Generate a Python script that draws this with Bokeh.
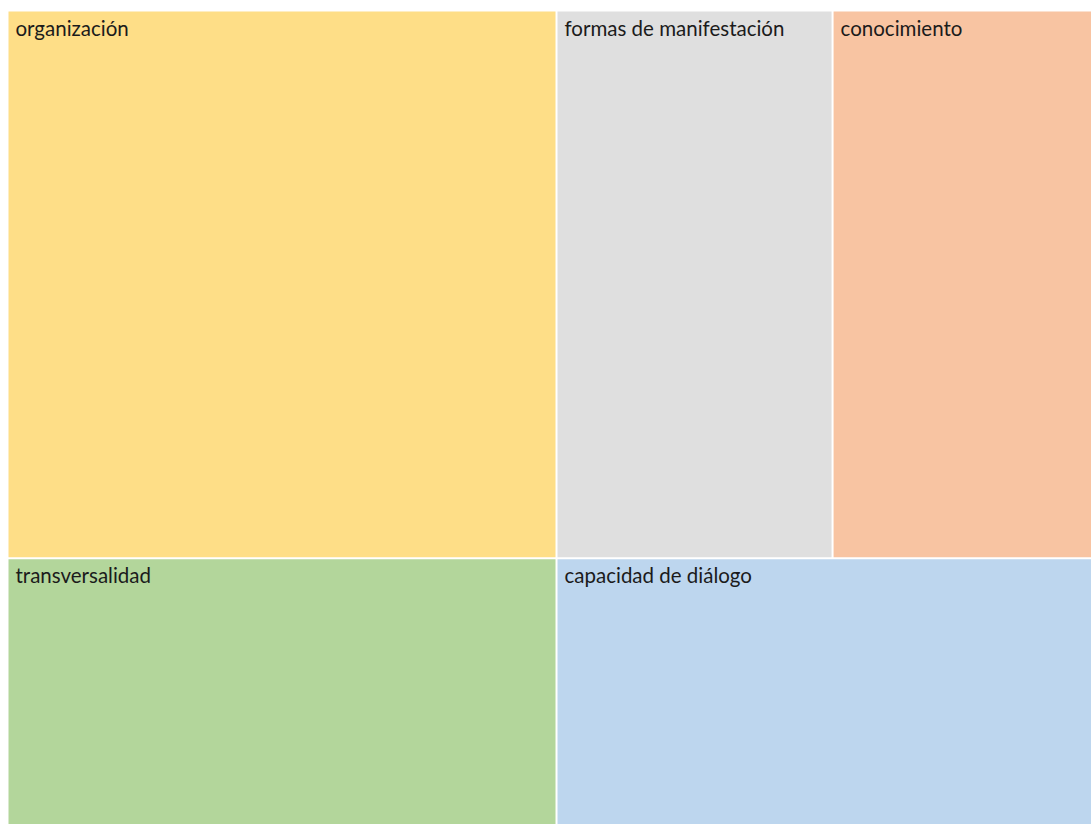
from bokeh.plotting import figure
from bokeh.models import Range1d, ColumnDataSource
from bokeh.core.properties import value
from bokeh.embed import file_html
from bokeh.resources import INLINE

# ---- data ----
labels = ["organización", "transversalidad", "formas de manifestación", "conocimiento", "capacidad de diálogo"]
values = [340, 166, 171, 161, 162]
colors = ["#FEDE87", "#B3D69B", "#DFDFDF", "#F8C4A2", "#BDD6EE"]

W, H = 1091, 824
LEFT, TOP = 8, 11
PAD = 2
PHI = (1 + 5 ** 0.5) / 2


def squarify(vals, x0, y0, x1, y1, ratio=PHI):
    """d3-style squarified treemap tiling."""
    rects = [None] * len(vals)
    n = len(vals)
    total = float(sum(vals))
    i0 = i1 = 0
    while i0 < n:
        dx, dy = x1 - x0, y1 - y0
        s = vals[i1]; i1 += 1
        mn = mx = s
        alpha = max(dy / dx, dx / dy) / (total * ratio)
        beta = s * s * alpha
        min_ratio = max(mx / beta, beta / mn)
        while i1 < n:
            v = vals[i1]
            s2 = s + v
            mn2, mx2 = min(mn, v), max(mx, v)
            beta = s2 * s2 * alpha
            new_ratio = max(mx2 / beta, beta / mn2)
            if new_ratio > min_ratio:
                break
            s, mn, mx, min_ratio = s2, mn2, mx2, new_ratio
            i1 += 1
        idx = list(range(i0, i1))
        if dx < dy:  # dice: row across the top
            yb = y0 + dy * s / total
            cx = x0
            for k in idx:
                w = dx * vals[k] / s
                rects[k] = (cx, y0, cx + w, yb)
                cx += w
            y0 = yb
        else:  # slice: column on the left
            xb = x0 + dx * s / total
            cy = y0
            for k in idx:
                h = dy * vals[k] / s
                rects[k] = (x0, cy, xb, cy + h)
                cy += h
            x0 = xb
        total -= s
        i0 = i1
    return rects


p_half = PAD / 2
cells = squarify(values, LEFT - p_half, TOP - p_half, W + p_half, H + p_half)
left = [c[0] + p_half for c in cells]
top = [c[1] + p_half for c in cells]
right = [c[2] - p_half for c in cells]
bottom = [c[3] - p_half for c in cells]

src = ColumnDataSource(dict(left=left, right=right, top=top, bottom=bottom,
                            color=colors, label=labels,
                            tx=[l + 7 for l in left], ty=[t + 16 for t in top]))

p = figure(width=W, height=H, x_range=Range1d(0, W), y_range=Range1d(H, 0),
           toolbar_location=None, output_backend="svg", min_border=0)
p.axis.visible = False
p.grid.visible = False
p.outline_line_color = None
p.background_fill_color = "white"
p.border_fill_color = "white"

p.quad(left="left", right="right", top="top", bottom="bottom", source=src,
       fill_color="color", line_color=None)
p.text(x="tx", y="ty", text="label", source=src, text_font=value("Lato"),
       text_font_size="20.5px", text_color="#1b1b1b", text_baseline="alphabetic",
       text_align="left")

open("out.html", "w").write(file_html(p, INLINE))
